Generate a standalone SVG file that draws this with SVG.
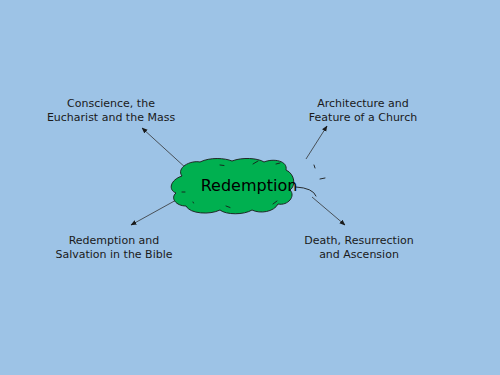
<svg xmlns="http://www.w3.org/2000/svg" width="500" height="375" viewBox="0 0 500 375">
<style>
.lbl{font-family:"DejaVu Sans",sans-serif;font-size:11px;fill:#1a1a1a;text-anchor:middle}
.cn{stroke:#333;stroke-width:0.8;fill:none}
.mk{stroke:#1a1a1a;stroke-width:0.9;fill:none;stroke-linecap:round}
</style>
<defs>
<marker id="ah" viewBox="0 0 10 10" refX="9" refY="5" markerWidth="6" markerHeight="6" orient="auto" markerUnits="userSpaceOnUse">
<path d="M0,1 L10,5 L0,9 Z" fill="#1a1a1a"/>
</marker>
</defs>
<rect width="500" height="375" fill="#9DC3E6"/>
<g id="connectors">
<line class="cn" x1="187" y1="169" x2="142" y2="128" marker-end="url(#ah)"/>
<line class="cn" x1="306" y1="159" x2="327" y2="126" marker-end="url(#ah)"/>
<line class="cn" x1="178" y1="199" x2="131" y2="225" marker-end="url(#ah)"/>
<line class="cn" x1="312" y1="197" x2="345" y2="225" marker-end="url(#ah)"/>
</g>
<g id="center">
<path d="M182,176 C176,168 190,160 200,162 C210,157 225,158 232,161 C242,157 258,158 264,162 C274,158 288,161 286,170 C295,174 296,186 290,190 C296,196 288,206 278,204 C274,212 260,214 252,210 C244,215 226,215 220,210 C210,215 190,214 186,206 C176,206 170,198 176,193 C168,190 170,180 182,176 Z" fill="#00B050" stroke="#1a1a1a" stroke-width="0.9"/>
<path class="mk" d="M220,165 L224,165.5"/>
<path class="mk" d="M253,164 L258,161"/>
<path class="mk" d="M276,164 L280,163"/>
<path class="mk" d="M182,192 L185,192"/>
<path class="mk" d="M193,202 L193.5,203"/>
<path class="mk" d="M226,206 L230,207.5"/>
<path class="mk" d="M273,204 L277,201"/>
<path class="mk" d="M314,165 L315,168"/>
<path class="mk" d="M320,179 L325,178"/>
<path class="mk" d="M296,187 Q313,188 316,196"/>
<text x="249" y="191" font-family="DejaVu Sans, sans-serif" font-size="16" fill="#000" text-anchor="middle">Redemption</text>
</g>
<g id="n1"><text class="lbl" x="111" y="107">Conscience, the</text><text class="lbl" x="111" y="121">Eucharist and the Mass</text></g>
<g id="n2"><text class="lbl" x="363" y="107">Architecture and</text><text class="lbl" x="363" y="121">Feature of a Church</text></g>
<g id="n3"><text class="lbl" x="114" y="244">Redemption and</text><text class="lbl" x="114" y="258">Salvation in the Bible</text></g>
<g id="n4"><text class="lbl" x="359" y="244">Death, Resurrection</text><text class="lbl" x="359" y="258">and Ascension</text></g>
</svg>
